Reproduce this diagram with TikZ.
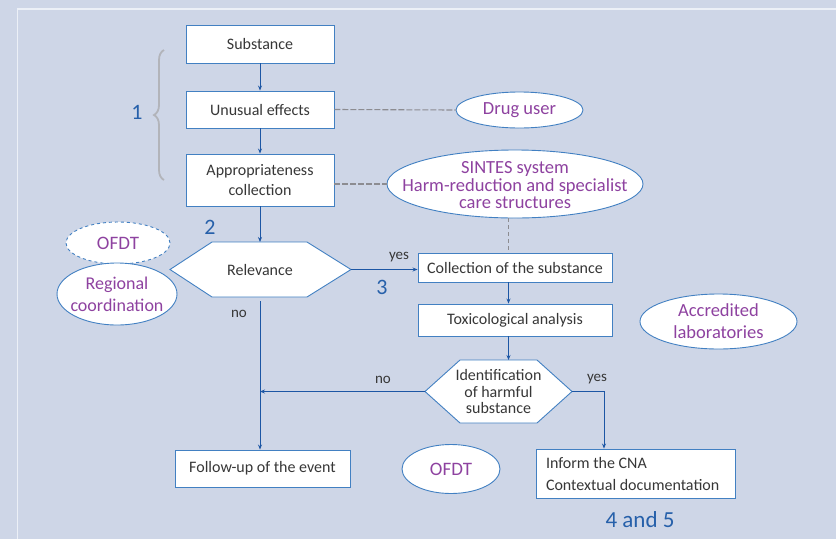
\documentclass[tikz,border=0pt]{standalone}
\usepackage{fontspec}
\setmainfont{Carlito}
\usetikzlibrary{shapes.geometric,arrows.meta,decorations.pathreplacing,calc}
\definecolor{bg}{RGB}{206,214,231}
\definecolor{framecol}{RGB}{236,240,247}
\definecolor{boxblue}{RGB}{66,128,194}
\definecolor{arrblue}{RGB}{28,86,164}
\definecolor{txtgrey}{RGB}{55,55,55}
\definecolor{purp}{RGB}{142,66,160}
\definecolor{numblue}{RGB}{38,96,170}
\definecolor{dashgrey}{RGB}{140,140,145}
\definecolor{bracegrey}{RGB}{178,180,186}
\tikzset{
  box/.style={draw=boxblue, fill=white, line width=0.9pt, text=txtgrey,
    font=\fontsize{16}{20}\selectfont, inner sep=0pt, align=center},
  ell/.style={ellipse, draw=boxblue, fill=white, line width=0.9pt, inner sep=0pt},
  etext/.style={text=purp, font=\fontsize{18.5}{22}\selectfont, inner sep=0pt, align=center},
  hexs/.style={draw=boxblue, fill=white, line width=0.9pt},
  flow/.style={draw=arrblue, line width=0.9pt, -{Stealth[length=5pt,width=4pt]}},
  link/.style={draw=dashgrey, line width=1.1pt, dash pattern=on 6pt off 2pt},
  lbl/.style={text=txtgrey, font=\fontsize{15}{18}\selectfont, inner sep=0pt},
  htext/.style={text=txtgrey, font=\fontsize{16}{16.7}\selectfont, inner sep=0pt, align=center},
  num/.style={text=numblue, font=\fontsize{22}{26}\selectfont, inner sep=0pt}
}
\begin{document}
\begin{tikzpicture}[x=1pt,y=-1pt]
\fill[bg] (0,0) rectangle (836,539);
\useasboundingbox (0,0) rectangle (836,539);
\draw[framecol, line width=1.6pt] (17.5,539) -- (17.5,9) -- (836,9);

% boxes
\node[box, minimum width=148pt, minimum height=38pt] (sub) at (260,44) {Substance};
\node[box, minimum width=148pt, minimum height=37pt] (unu) at (260,109.5) {Unusual effects};
\node[box, minimum width=148pt, minimum height=52pt] (app) at (260,180) {Appropriateness\\collection};
\node[box, minimum width=194pt, minimum height=29pt] (coll) at (515,267.5) {Collection of the substance};
\node[box, minimum width=194pt, minimum height=32pt] (tox) at (515,320) {Toxicological analysis};
\node[box, minimum width=175pt, minimum height=37pt] (fol) at (262.5,468.5) {Follow-up of the event};
\node[box, minimum width=199pt, minimum height=49pt, text width=179pt, inner xsep=10pt, align=flush left,
  font=\fontsize{16}{22}\selectfont] (inf) at (635.5,473.5) {Inform the CNA\\Contextual documentation};

% Relevance hexagon
\coordinate (rel-w) at (170,269.5);
\coordinate (rel-nw) at (212,242);
\coordinate (rel-ne) at (307,242);
\coordinate (rel-e) at (351,269.5);
\coordinate (rel-se) at (307,297);
\coordinate (rel-sw) at (212,297);
\coordinate (rel-n) at (260,242);
\coordinate (rel-s) at (260,297);
\filldraw[hexs] (rel-w) -- (rel-nw) -- (rel-ne) -- (rel-e) -- (rel-se) -- (rel-sw) -- cycle;
\node[htext] (rel) at (260,269.5) {Relevance};

% Identification hexagon
\coordinate (idn-w) at (425,391.5);
\coordinate (idn-nw) at (460,360);
\coordinate (idn-ne) at (537,360);
\coordinate (idn-e) at (572,391.5);
\coordinate (idn-se) at (537,423);
\coordinate (idn-sw) at (460,423);
\coordinate (idn-n) at (508.5,360);
\filldraw[hexs] (idn-w) -- (idn-nw) -- (idn-ne) -- (idn-e) -- (idn-se) -- (idn-sw) -- cycle;
\node[htext] (idn) at (498.5,391.5) {Identification\\of harmful\\substance};

% ellipses
\node[ell, minimum width=127pt, minimum height=36pt] (drug) at (519.5,110) {};
\node[etext] (drug-t) at (drug) {Drug user};
\node[ell, minimum width=256pt, minimum height=68pt] (sintes) at (515,184) {};
\node[etext, font=\fontsize{18.5}{17.5}\selectfont] (sintes-t) at (515,185.5)
  {SINTES system\\Harm-reduction and specialist\\care structures};
\node[ell, dashed, minimum width=104pt, minimum height=42pt] (ofdta) at (118,243) {};
\node[etext, font=\fontsize{19}{22}\selectfont] (ofdta-t) at (ofdta) {OFDT};
\node[ell, minimum width=120pt, minimum height=62pt] (reg) at (117,294) {};
\node[etext, font=\fontsize{18}{22}\selectfont] (reg-t) at (reg) {Regional\\coordination};
\node[ell, minimum width=157pt, minimum height=55pt] (acc) at (718.5,321.5) {};
\node[etext] (acc-t) at (acc) {Accredited\\laboratories};
\node[ell, minimum width=98pt, minimum height=49pt] (ofdtb) at (451,469) {};
\node[etext, font=\fontsize{19}{22}\selectfont] (ofdtb-t) at (ofdtb) {OFDT};

% labels
\node[num] (n1) at (137,112) {1};
\node[num] (n2) at (210,227) {2};
\node[num] (n3) at (382,287) {3};
\node[num, font=\fontsize{23}{26}\selectfont] (n45) at (640,520) {4 and 5};
\node[lbl] (yes1) at (399,257) {yes};
\node[lbl] (no1) at (239,314) {no};
\node[lbl] (no2) at (383,380) {no};
\node[lbl] (yes2) at (597,379) {yes};

% brace
\coordinate (brb) at (164,180);
\coordinate (brt) at (164,50);
\draw[bracegrey, line width=1.8pt, decorate, decoration={brace, amplitude=10pt}] (brb) -- (brt);

% connectors
\draw[flow] (sub) -- (unu);
\draw[flow] (unu) -- (app);
\draw[flow] (app.south) -- (rel-n);
\draw[flow] (rel-e) -- (rel-e -| coll.west);
\draw[flow, shorten <=4pt] (rel-s) -- (rel-s |- fol.north);
\draw[flow] (coll.south -| idn-n) -- (tox.north -| idn-n);
\draw[flow] (tox.south -| idn-n) -- (idn-n);
\draw[flow] (idn-w) -- (idn-w -| rel-s);
\coordinate (yesdrop) at (604,391.5);
\draw[flow] (idn-e) -- (yesdrop) -- (yesdrop |- inf.north);

% dashed links
\draw[link] (unu.east) -- (drug.west);
\draw[link] (sintes.west -| app.east) -- (sintes.west);
\draw[link, line width=0.7pt, dash pattern=on 4pt off 3pt] (sintes.south -| idn-n) -- (coll.north -| idn-n);
\end{tikzpicture}
\end{document}
